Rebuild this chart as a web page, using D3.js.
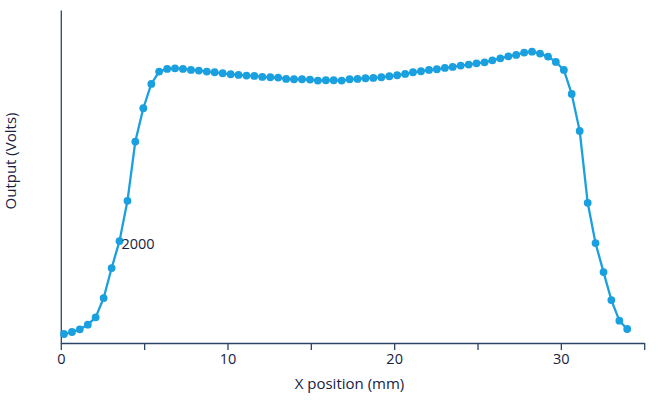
<!DOCTYPE html>
<html>
<head>
<meta charset="utf-8">
<script src="https://cdn.jsdelivr.net/npm/d3@7"></script>
<style>
  html, body { margin: 0; padding: 0; background: #ffffff; }
  svg { display: block; }
  text { font-family: "Open Sans", "Noto Sans", sans-serif; fill: #17223f; }
</style>
</head>
<body>
<svg id="chart" width="666" height="402"></svg>
<script>
// X position (mm)
const xPositions = [
  0.19, 0.67, 1.14, 1.62, 2.09, 2.57, 3.05, 3.52, 4.00, 4.47,
  4.95, 5.43, 5.90, 6.38, 6.85, 7.33, 7.81, 8.28, 8.76, 9.23,
  9.71, 10.19, 10.66, 11.14, 11.61, 12.09, 12.57, 13.04, 13.52, 13.99,
  14.47, 14.95, 15.42, 15.90, 16.37, 16.85, 17.33, 17.80, 18.28, 18.75,
  19.23, 19.71, 20.18, 20.66, 21.13, 21.61, 22.09, 22.56, 23.04, 23.51,
  23.99, 24.47, 24.94, 25.42, 25.89, 26.37, 26.85, 27.32, 27.80, 28.27,
  28.75, 29.23, 29.70, 30.18, 30.65, 31.13, 31.61, 32.08, 32.56, 33.03,
  33.51, 33.98
];
// Output (Volts)
const outputValues = [
  0.27, 0.33, 0.41, 0.55, 0.77, 1.35, 2.25, 3.06, 4.27, 6.05,
  7.05, 7.78, 8.15, 8.23, 8.25, 8.23, 8.20, 8.18, 8.15, 8.13,
  8.10, 8.07, 8.05, 8.03, 8.02, 7.99, 7.98, 7.97, 7.93, 7.92,
  7.92, 7.91, 7.88, 7.89, 7.89, 7.88, 7.92, 7.93, 7.95, 7.96,
  7.98, 8.01, 8.04, 8.08, 8.13, 8.16, 8.20, 8.22, 8.26, 8.29,
  8.33, 8.36, 8.40, 8.43, 8.49, 8.55, 8.61, 8.65, 8.72, 8.75,
  8.69, 8.60, 8.44, 8.20, 7.48, 6.37, 4.21, 3.00, 2.13, 1.29,
  0.67, 0.42
];
const xTickValues = [0, 5, 10, 15, 20, 25, 30, 35];
const xTickLabels = ["0", "", "10", "", "20", "", "30", ""];
const annotationIndex = 7;
const annotationText = "2000";
const xTitle = "X position (mm)";
const yTitle = "Output (Volts)";

const data = xPositions.map((x, i) => ({ x: x, y: outputValues[i] }));

const svg = d3.select("#chart");
const plotLeft = 60.8, plotRight = 644.2, plotTop = 10, plotBottom = 343;
const axisColor = "#2b4468";
const lineColor = "#1ba0df";
const textColor = "#17223f";

const x = d3.scaleLinear().domain([0, 35]).range([plotLeft, plotRight]);
const y = d3.scaleLinear().domain([0, 10]).range([plotBottom, plotTop]);

// x axis
const xAxis = d3.axisBottom(x)
  .tickValues(xTickValues)
  .tickFormat((d, i) => xTickLabels[i])
  .tickSize(7)
  .tickSizeOuter(0);
const gx = svg.append("g")
  .attr("transform", `translate(0,${plotBottom})`)
  .call(xAxis);
gx.select(".domain").attr("stroke", axisColor).attr("stroke-width", 1.3);
gx.selectAll(".tick line").attr("stroke", axisColor).attr("stroke-width", 1.3);
gx.selectAll(".tick text")
  .attr("fill", textColor)
  .attr("font-size", 14.5)
  .attr("font-family", "Open Sans, Noto Sans, sans-serif")
  .attr("dy", "0.95em")
  .attr("y", 7);

// y axis (line only)
const yAxis = d3.axisLeft(y).tickValues([]).tickSizeOuter(0);
const gy = svg.append("g")
  .attr("transform", `translate(${plotLeft},0)`)
  .call(yAxis);
gy.select(".domain").attr("stroke", axisColor).attr("stroke-width", 1.3);

// line
const line = d3.line().x(d => x(d.x)).y(d => y(d.y));
svg.append("path")
  .datum(data)
  .attr("fill", "none")
  .attr("stroke", lineColor)
  .attr("stroke-width", 2.3)
  .attr("stroke-linejoin", "round")
  .attr("d", line);

svg.append("g")
  .selectAll("circle")
  .data(data)
  .join("circle")
  .attr("cx", d => x(d.x))
  .attr("cy", d => y(d.y))
  .attr("r", 3.9)
  .attr("fill", lineColor);

// annotation
const ad = data[annotationIndex];
svg.append("text")
  .attr("x", x(ad.x) + 2)
  .attr("y", y(ad.y) + 8)
  .attr("font-size", 14.5)
  .text(annotationText);

// titles
svg.append("text")
  .attr("x", (plotLeft + plotRight) / 2 - 3)
  .attr("y", 389)
  .attr("text-anchor", "middle")
  .attr("font-size", 15)
  .text(xTitle);

svg.append("text")
  .attr("transform", "translate(15.5,161) rotate(-90)")
  .attr("text-anchor", "middle")
  .attr("font-size", 15)
  .text(yTitle);
</script>
</body>
</html>
